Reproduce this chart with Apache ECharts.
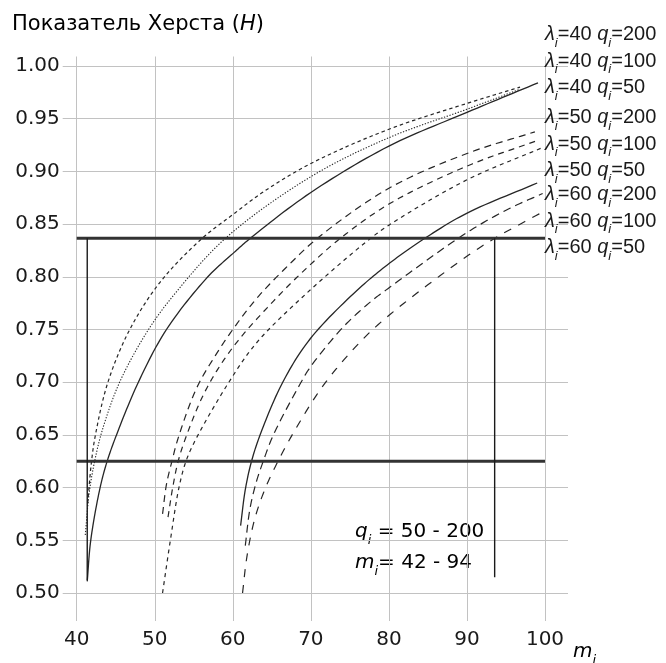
<!DOCTYPE html>
<html><head><meta charset="utf-8">
<script src="https://cdn.jsdelivr.net/npm/echarts@6/dist/echarts.min.js"></script>
<style>html,body{margin:0;padding:0;background:#fff}#c{width:666px;height:663px}</style>
</head><body><div id="c"></div>
<script>
// ---- data ----
const xTicks = [40, 50, 60, 70, 80, 90, 100];
const yTicks = [0.50, 0.55, 0.60, 0.65, 0.70, 0.75, 0.80, 0.85, 0.90, 0.95, 1.00];
const lambdas = [40, 40, 40, 50, 50, 50, 60, 60, 60];
const qs = [200, 100, 50, 200, 100, 50, 200, 100, 50];

const l40q200 = [[41.4,0.585],[41.9,0.625],[42.4,0.650],[44.0,0.700],[46.8,0.750],[50.7,0.795],[56.0,0.836],[60.0,0.859],[64.0,0.881],[70,0.9075],[80,0.940],[90,0.9645],[96.8,0.980]];
const l40q100 = [[41.1,0.555],[41.6,0.595],[42.3,0.625],[43.3,0.655],[45.5,0.700],[49.2,0.750],[52.8,0.786],[59.2,0.8375],[70,0.895],[80,0.932],[90,0.959],[96.8,0.978]];
const l40q50  = [[41.35,0.511],[41.8,0.550],[43.0,0.600],[43.9,0.625],[45.1,0.650],[47.9,0.700],[51.5,0.750],[56.8,0.800],[60,0.822],[62.4,0.8375],[70,0.880],[80,0.924],[90,0.956],[99.1,0.984]];
const l50q200 = [[51.0,0.575],[51.5,0.603],[52.2,0.625],[53.0,0.647],[55.4,0.695],[58.0,0.728],[60,0.750],[63,0.779],[67,0.810],[71,0.8375],[80,0.884],[90,0.917],[98.7,0.9375]];
const l50q100 = [[51.7,0.572],[52.3,0.600],[53.0,0.625],[54.0,0.648],[56.5,0.692],[60,0.733],[65.6,0.780],[70,0.812],[73.7,0.836],[80,0.869],[90,0.905],[99.3,0.930]];
const l50q50  = [[51.0,0.500],[52.0,0.550],[53.1,0.600],[54.0,0.625],[55.2,0.645],[59.5,0.700],[63,0.737],[69.4,0.784],[77.4,0.835],[80,0.849],[90,0.892],[99.5,0.922]];
const l60q200 = [[61.0,0.564],[61.6,0.598],[62.4,0.625],[63.6,0.652],[66.4,0.700],[69.9,0.741],[75.9,0.787],[80.1,0.813],[84.6,0.8365],[89.9,0.860],[99.0,0.889]];
const l60q100 = [[61.6,0.545],[62.2,0.580],[63.0,0.605],[63.9,0.625],[65.2,0.650],[68.6,0.698],[69.9,0.714],[74.1,0.752],[77.6,0.776],[80.1,0.790],[90,0.842],[95.5,0.865],[99.7,0.879]];
const l60q50  = [[61.25,0.500],[61.8,0.534],[62.8,0.570],[64.2,0.600],[66.0,0.628],[68.0,0.655],[71.6,0.697],[76.3,0.738],[80.1,0.764],[89.9,0.819],[93.55,0.8365],[99.7,0.8615]];

const levelsH = [0.8365, 0.625];          // horizontal bounds of H
const mBounds = [41.35, 93.55];           // m_i limits
const mBottoms = [0.512, 0.515];          // lower end of the m_i markers
const annotQ = '50 - 200';
const annotM = '42 - 94';

// ---- styles ----
const FONT = 'DejaVu Sans';
const curves = [l40q200, l40q100, l40q50, l50q200, l50q100, l50q50, l60q200, l60q100, l60q50];
const dashes = [[3.5,3], [1.3,1.6], null, [7,5], [6,5], [4,4], null, [8,5], [8,8]];
const widths = [1.2, 1.1, 1.3, 1.2, 1.2, 1.2, 1.3, 1.2, 1.2];
const names = lambdas.map((l,i) => 'λ=' + l + ' q=' + qs[i]);
const GRID = '#c2c2c2';
const INK = '#262626';

// centripetal Catmull-Rom through pixel points (rendering only)
function spline(pts, n) {
  const out = [];
  const d = (a, b) => Math.max(1e-6, Math.pow(Math.hypot(b[0]-a[0], b[1]-a[1]), 0.5));
  for (let i = 0; i < pts.length - 1; i++) {
    const p1 = pts[i], p2 = pts[i+1];
    const p0 = pts[i-1] || [2*p1[0]-p2[0], 2*p1[1]-p2[1]];
    const p3 = pts[i+2] || [2*p2[0]-p1[0], 2*p2[1]-p1[1]];
    const t0 = 0, t1 = d(p0,p1), t2 = t1 + d(p1,p2), t3 = t2 + d(p2,p3);
    for (let k = 0; k < n; k++) {
      const t = t1 + (t2 - t1) * k / n;
      const L = (P, Q, ta, tb) => [(tb-t)/(tb-ta)*P[0] + (t-ta)/(tb-ta)*Q[0], (tb-t)/(tb-ta)*P[1] + (t-ta)/(tb-ta)*Q[1]];
      const A1 = L(p0,p1,t0,t1), A2 = L(p1,p2,t1,t2), A3 = L(p2,p3,t2,t3);
      const B1 = L(A1,A2,t0,t2), B2 = L(A2,A3,t1,t3);
      out.push(L(B1,B2,t1,t2));
    }
  }
  out.push(pts[pts.length-1]);
  return out;
}

const series = curves.map((c, i) => ({
  type: 'custom', name: names[i], coordinateSystem: 'cartesian2d',
  data: [c[0]], encode: { x: 0, y: 1 }, silent: true,
  renderItem: (params, api) => ({
    type: 'polyline', silent: true,
    shape: { points: spline(c.map(p => api.coord(p)), 14) },
    style: { fill: null, stroke: INK, lineWidth: widths[i], lineDash: dashes[i] }
  })
}));
levelsH.forEach((h, i) => series.push({
  type: 'line', name: 'lvl' + i, data: [[xTicks[0], h], [xTicks[xTicks.length-1], h]],
  symbol: 'none', silent: true, lineStyle: { color: '#333', width: 3 }
}));
mBounds.forEach((m, i) => series.push({
  type: 'line', name: 'mb' + i, data: [[m, levelsH[0]], [m, mBottoms[i]]],
  symbol: 'none', silent: true, lineStyle: { color: '#1a1a1a', width: 1.4 }
}));

const legRich = {
  g: { fontFamily: 'Liberation Sans', fontSize: 20, fontStyle: 'italic', lineHeight: 20, color: '#1a1a1a' },
  n: { fontFamily: 'Liberation Sans', fontSize: 20, lineHeight: 20, color: '#1a1a1a' },
  s: { fontFamily: 'Liberation Sans', fontSize: 13, fontStyle: 'italic', lineHeight: 12, padding: [17,0,0,0], color: '#1a1a1a' }
};
function legFmt(name) {
  const i = names.indexOf(name);
  return '{g|λ}{s|i}{n|=' + lambdas[i] + ' }{g|q}{s|i}{n|=' + qs[i] + '}';
}
const legendTops = [19.5, 102.5, 179.5];
const legends = [0, 1, 2].map(k => ({
  data: names.slice(k*3, k*3+3), orient: 'vertical', left: 540, top: legendTops[k],
  padding: 0, itemGap: -3.5, icon: 'none', itemWidth: 0, itemHeight: 0,
  selectedMode: false, formatter: legFmt, textStyle: { rich: legRich }
}));

const txtRich = {
  n: { fontFamily: FONT, fontSize: 20, lineHeight: 22, color: '#1a1a1a' },
  i: { fontFamily: FONT, fontSize: 20, fontStyle: 'italic', lineHeight: 22, color: '#1a1a1a' },
  s: { fontFamily: FONT, fontSize: 13, fontStyle: 'italic', lineHeight: 12, padding: [17,0,0,0], color: '#1a1a1a' }
};

const option = {
  animation: false,
  backgroundColor: '#fff',
  grid: { left: 76.7, right: 121, top: 66, bottom: 70 },
  legend: legends,
  xAxis: [
    { type: 'value', min: xTicks[0], max: xTicks[xTicks.length-1], interval: 10, position: 'bottom',
      axisLine: { show: false },
      axisTick: { show: true, length: 28, lineStyle: { color: GRID } },
      axisLabel: { fontFamily: FONT, fontSize: 20, color: '#1a1a1a', margin: 37 },
      splitLine: { show: true, lineStyle: { color: GRID, width: 1 } } },
    { type: 'value', min: xTicks[0], max: xTicks[xTicks.length-1], interval: 10, position: 'top',
      axisLine: { show: false },
      axisTick: { show: true, length: 9.5, lineStyle: { color: GRID } },
      axisLabel: { show: false }, splitLine: { show: false } }
  ],
  yAxis: [
    { type: 'value', min: yTicks[0], max: yTicks[yTicks.length-1], interval: 0.05, position: 'left',
      axisLine: { show: false },
      axisTick: { show: true, length: 14, lineStyle: { color: GRID } },
      axisLabel: { fontFamily: FONT, fontSize: 20, color: '#1a1a1a', margin: 17, formatter: v => v.toFixed(2) },
      splitLine: { show: true, lineStyle: { color: GRID, width: 1 } } },
    { type: 'value', min: yTicks[0], max: yTicks[yTicks.length-1], interval: 0.05, position: 'right',
      axisLine: { show: false },
      axisTick: { show: true, length: 23, lineStyle: { color: GRID } },
      axisLabel: { show: false }, splitLine: { show: false } }
  ],
  graphic: [
    { type: 'text', x: 12, y: 25, silent: true,
      style: { text: '{n|Показатель Херста (}{i|H}{n|)}', verticalAlign: 'middle',
               rich: { n: { fontFamily: FONT, fontSize: 21, color: '#1a1a1a' },
                       i: { fontFamily: FONT, fontSize: 21, fontStyle: 'italic', color: '#1a1a1a' } } } },
    { type: 'text', x: 355, y: 532, silent: true,
      style: { text: '{i|q}{s|i}{n| = ' + annotQ + '}', verticalAlign: 'middle', rich: txtRich } },
    { type: 'text', x: 355, y: 563, silent: true,
      style: { text: '{i|m}{s|i}{n|= ' + annotM + '}', verticalAlign: 'middle', rich: txtRich } },
    { type: 'text', x: 573, y: 652, silent: true,
      style: { text: '{i|m}{s|i}', verticalAlign: 'middle', rich: txtRich } }
  ],
  series: series
};
const chart = echarts.init(document.getElementById('c'), null, { renderer: 'canvas' });
chart.setOption(option);
</script></body></html>
